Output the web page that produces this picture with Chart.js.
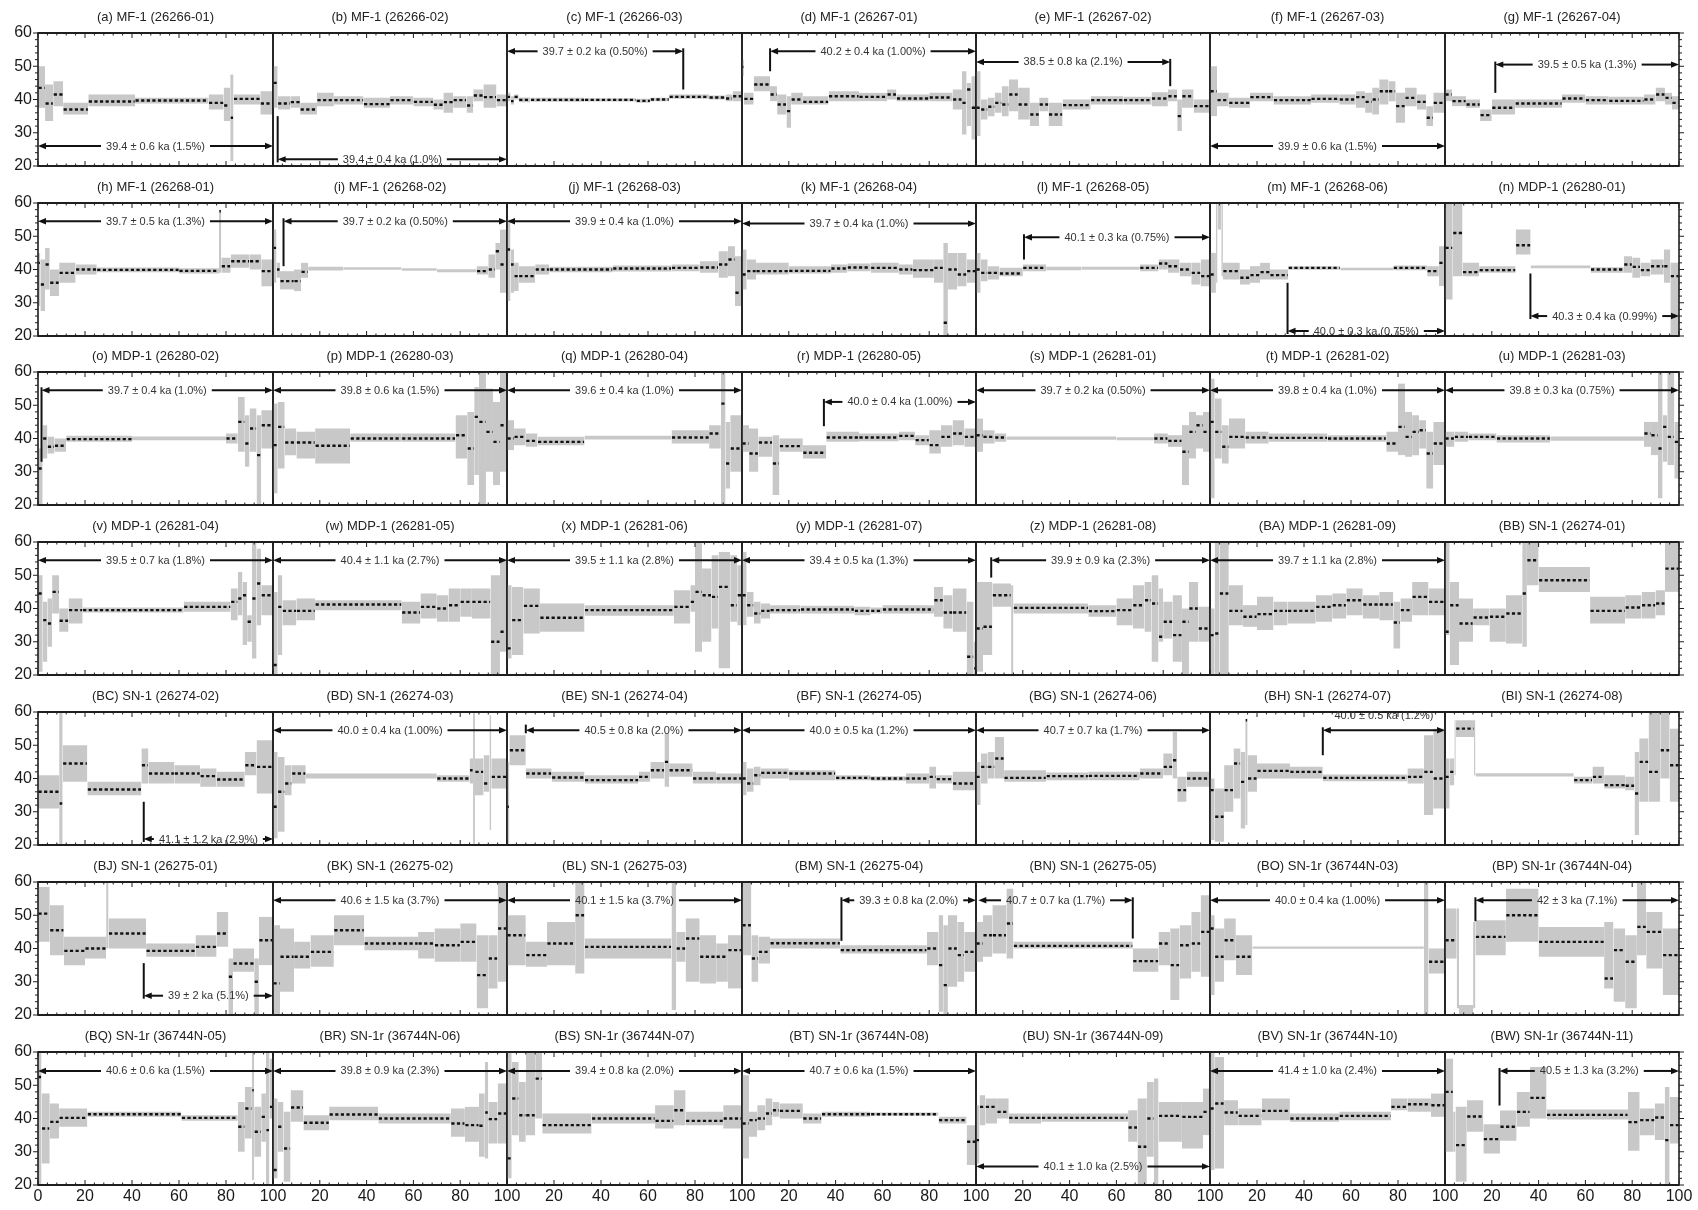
<!DOCTYPE html>
<html>
<head>
<meta charset="utf-8">
<script src="https://cdn.jsdelivr.net/npm/chart.js@4.4.0/dist/chart.umd.min.js"></script>
<style>
  body { margin: 0; background: #fff; width: 1698px; height: 1210px; overflow: hidden; position: relative; }
  .panel { position: absolute; }
</style>
</head>
<body>
<script>
// panel ids, sample names and codes (7 x 7 grid, row by row)
const panelIds = ['a','b','c','d','e','f','g','h','i','j','k','l','m','n','o','p','q','r','s','t','u',
  'v','w','x','y','z','BA','BB','BC','BD','BE','BF','BG','BH','BI','BJ','BK','BL','BM','BN','BO','BP',
  'BQ','BR','BS','BT','BU','BV','BW'];
const sampleNames = ['MF-1','MF-1','MF-1','MF-1','MF-1','MF-1','MF-1','MF-1','MF-1','MF-1','MF-1','MF-1','MF-1','MDP-1',
  'MDP-1','MDP-1','MDP-1','MDP-1','MDP-1','MDP-1','MDP-1','MDP-1','MDP-1','MDP-1','MDP-1','MDP-1','MDP-1','SN-1',
  'SN-1','SN-1','SN-1','SN-1','SN-1','SN-1','SN-1','SN-1','SN-1','SN-1','SN-1','SN-1','SN-1r','SN-1r',
  'SN-1r','SN-1r','SN-1r','SN-1r','SN-1r','SN-1r','SN-1r'];
const sampleCodes = ['26266-01','26266-02','26266-03','26267-01','26267-02','26267-03','26267-04',
  '26268-01','26268-02','26268-03','26268-04','26268-05','26268-06','26280-01',
  '26280-02','26280-03','26280-04','26280-05','26281-01','26281-02','26281-03',
  '26281-04','26281-05','26281-06','26281-07','26281-08','26281-09','26274-01',
  '26274-02','26274-03','26274-04','26274-05','26274-06','26274-07','26274-08',
  '26275-01','26275-02','26275-03','26275-04','26275-05','36744N-03','36744N-04',
  '36744N-05','36744N-06','36744N-07','36744N-08','36744N-09','36744N-10','36744N-11'];

// step segments: [x start, x end, lower, upper, mean (null = no mean marks)]
const segA = [[0,3,37.5,50,43.5],[3,6.5,33.5,44.5,38.8],[6.5,10.7,38,45.5,41.5],[10.7,21.4,35.5,39,37],[21.4,41.3,38,41.5,39.4],[41.3,72.6,38.8,40.5,39.7],[72.6,79,37,41.5,39],[79,81.8,33.5,43.5,38.2],[81.8,83.2,21.5,47.5,34.5],[83.2,94.6,38.5,41.5,40.2],[94.6,100,35.5,42.5,38.8]];
const segB = [[0,2,37.5,50,45],[2,7.4,37,41,38.8],[7.4,11.6,37.5,41,39.2],[11.6,18.8,35.5,39,37],[18.8,26,38,42,39.8],[26,38.7,38.5,41,39.8],[38.7,50,37.5,40.5,38.6],[50,60,38.5,41,39.8],[60,68.5,38,40.5,39.3],[68.5,72.8,37,40,38.4],[72.8,77,36,42,39.2],[77,82.7,37.5,41,39.8],[82.7,85.6,36,41,38.2],[85.6,89.9,39.5,43,41.2],[89.9,95.5,37.5,44.5,40.7],[95.5,100,38,41.5,39.8]];
const segC = [[0,1.5,39.5,42,40.8],[1.5,3,38.5,41,39.5],[3,5,40,41.5,40.8],[5,10,39.2,40.6,39.9],[10,33,39.3,40.5,39.9],[33,55,39.4,40.4,39.9],[55,61,39,40.2,39.6],[61,69,39.5,40.5,40],[69,86,40.2,41.5,40.8],[86,93,40,41.2,40.6],[93,96,39.5,41.5,40.3],[96,100,39.5,42.5,41]];
const segD = [[0,0.8,47,52,49.8],[0.8,5,38.5,42,40.2],[5,12,42.5,47,44.5],[12,15,39.5,44,41.5],[15,19,35.5,41.5,38.5],[19,21,31.5,41,36.5],[21,26,38.5,42,40],[26,37,38.5,41,39.3],[37,50,39.5,42.5,41],[50,62,39.5,42,40.8],[62,66,40,43,41.5],[66,80,39.5,41.5,40.3],[80,90,39.5,42,40.6],[90,94,37,43,40],[94,96,29.5,48.5,39],[96,98,32,45,43],[98,100,28,47,37.5]];
const segE = [[0,2,29,48.5,37.5],[2,5,34,40,37],[5,8,35,40.5,37.8],[8,11,36,42,39],[11,14,35,44,38.5],[14,18,36.5,46,41.5],[18,23,34,43.5,38.5],[23,27,32,39,35.5],[27,31,36.5,40.5,38.5],[31,37,32,39,35.5],[37,49,37,40,38.3],[49,63,38.5,41,39.8],[63,75,38.5,40.8,39.8],[75,82,38,42.2,40.3],[82,86,39.5,43,41],[86,88,30.5,40,35],[88,93,37.5,43,41],[93,100,36,40,38]];
const segF = [[0,3,35,50,42.5],[3,8,38,42,39.8],[8,17,37.5,40.5,39],[17,27,39.5,42,40.7],[27,43,38.5,41,39.8],[43,55,39,41.5,40.2],[55,62,38.5,41.5,40],[62,66,37.5,42.5,40.7],[66,69,36,42,39.3],[69,72,35.5,43.5,40],[72,76,38.5,46,42.5],[76,79,39.5,45.5,42.5],[79,83,33,42,38],[83,88,38,43.5,40.5],[88,92,37,41.5,39.3],[92,95,32,38,34.5],[95,100,36,42,39]];
const segG = [[0,3,39.5,43,41.5],[3,9,38,41,39.5],[9,15,37.5,40,38.5],[15,20,33.5,37,35.3],[20,30,35.5,40,37.5],[30,50,37.5,40,38.8],[50,60,39,41.5,40.3],[60,70,38.5,41,39.8],[70,85,38.5,40.8,39.6],[85,90,38.5,41.5,40],[90,94,39.5,43.5,41.5],[94,97,38.5,42,40.5],[97,100,37,41,39]];
const segH = [[0,1,29,45,42],[1,3,27.5,43,35.5],[3,5,34,46.5,41.5],[5,9,32,40,36],[9,16,36,42,39],[16,25,38.5,41.5,40],[25,60,39.2,40.6,39.9],[60,77,38.8,40.4,39.6],[77,78,39,58,57.5],[78,82,39,43.5,41],[82,90,40.5,44.5,42.5],[90,95,40,44.5,42.5],[95,100,35,43,39.5]];
const segI = [[0,1.5,36,52,46.5],[1.5,3,37.5,42,40],[3,9,34,39.5,36.5],[9,12,33.5,40,36.5],[12,15,37.5,42,39.3],[15,30,39.7,40.8,null],[30,55,39.9,40.7,null],[55,70,39.6,40.4,null],[70,87,39.2,40.1,null],[87,92,38.5,41,39.5],[92,95,37.5,44.5,40],[95,97,40,48,45.5],[97,100,33,52,41.5]];
const segJ = [[0,1.5,30.5,55,46],[1.5,3,33,46,41.5],[3,5,33.5,42,38],[5,12,36,41,38],[12,18,38.5,41.5,40],[18,45,39.2,40.8,40],[45,70,39.4,41.2,40.3],[70,82,39.5,41.5,40.5],[82,90,39,42.5,40.6],[90,94,37.5,45.5,41.5],[94,97,38,47,43],[97,100,29,44,33]];
const segK = [[0,2,34,46,38.5],[2,6,37,43,39.5],[6,20,38.5,42,39.5],[20,38,38.8,41,39.6],[38,45,39,41.5,40.3],[45,55,39.5,41.8,40.6],[55,67,39,42,40.5],[67,73,38.5,41.5,40],[73,82,37.5,43,39.8],[82,86,36,43,40.5],[86,88,20,48,24],[88,92,34,45,40],[92,96,35,45,38.5],[96,100,36,43,39.5]];
const segL = [[0,2,33,45,40],[2,5,36.5,43,39],[5,10,37,41,39],[10,20,38,40.5,38.8],[20,30,39.5,41.5,40.5],[30,45,39.8,40.8,null],[45,70,39.9,40.8,null],[70,78,39.5,41.5,40.5],[78,82,40,43,41.8],[82,87,39,43,41],[87,92,38,42,40],[92,96,35.5,42,39],[96,100,35,43,38]];
const segM = [[0,2.5,33,45,38.5],[2.5,3.2,36,60,null],[3.2,4.8,52,60,null],[4.8,5.5,38,60,null],[5.5,12.7,37,42,39.5],[12.7,17,35.5,40,37.5],[17,21.3,36,41,38.3],[21.3,25.5,37,42,39.2],[25.5,33.3,37,40,38.3],[33.3,55.4,39.9,41,40.5],[55.4,78,39.8,40.5,null],[78,92.4,39.8,41.2,40.5],[92.4,97.4,38,41,39.5],[97.4,100,35,47,42]];
const segN = [[0,3.3,31,60,46.5],[3.3,7.5,38,60,51],[7.5,14.6,38,42,39.2],[14.6,30.2,39,41,39.8],[30.2,36.6,44.5,52,47.3],[36.6,62.2,40.4,41.2,null],[62.2,76.4,39,40.7,40],[76.4,80,39,44,41.5],[80,83.5,37.5,43.5,40.8],[83.5,87.8,38,42,39.8],[87.8,93.5,38.5,43,41],[93.5,96.3,36,46,41],[96.3,100,20,42,38]];
const segO = [[0,2,20,37,31],[2,4,34,44,40],[4,7,35.5,40.5,37.5],[7,12,36,40,37.8],[12,40,39,40.8,39.8],[40,80,39.5,40.6,null],[80,85,38.5,41.5,40],[85,88,36,52.5,45],[88,90,31.5,47,38.5],[90,93,36,49,43],[93,95,20,47,35],[95,100,37,48.5,44]];
const segP = [[0,2,23.5,50.5,38],[2,5,31,51,43.5],[5,10,35,43,38.8],[10,18,34,42,38.8],[18,33,32.5,43,37.8],[33,55,39,41.5,40],[55,78,39,41.5,40],[78,83,34,47,41],[83,86,26,48,37],[86,88,29,55.5,46.5],[88,91,20,60,45],[91,94,30,55,42],[94,97,26,51,39],[97,100,30,60,44]];
const segQ = [[0,3,36.5,45.5,40],[3,8,38,43,40.5],[8,13,37.5,41.5,39.3],[13,33,38,40.5,39],[33,70,39.7,40.8,null],[70,86,38.5,42.5,40.3],[86,91,37,44,41.5],[91,93,20,60,50.5],[93,95,25,45,32.5],[95,100,30,47,37]];
const segR = [[0,3,36,44,38.5],[3,7,30,43,35.5],[7,13,34.5,40.5,38.8],[13,16,23,41,32.5],[16,26,36,40,37.7],[26,36,34,38,35.7],[36,50,39,42,40.3],[50,67,39.2,41.5,40.3],[67,74,39.5,42,40.8],[74,80,38,41,39.5],[80,85,35.5,42.5,38],[85,90,37.5,44,40.5],[90,95,38,45.5,41.5],[95,100,37.5,43,40.5]];
const segS = [[0,3,36,46,41],[3,8,38.5,42.5,40.5],[8,13,39,41.5,40.3],[13,60,39.6,40.6,null],[60,76,39.5,40.4,null],[76,82,38.5,41.5,40],[82,88,37.5,41,39.3],[88,91,26,44,36],[91,94,34,48,42],[94,97,37,47,44],[97,100,36,48,42]];
const segT = [[0,2,22,58,45],[2,5,34,52,42],[5,8,32.5,44,37.5],[8,15,37,46,40.5],[15,25,38.5,42,40.3],[25,50,39,41.5,40.2],[50,75,39,41,40],[75,80,36,42,38.5],[80,83,35,56.5,43.5],[83,86,34.5,48,40.5],[86,89,35,47,42],[89,92,37,45.5,42.5],[92,95,25,42,35.5],[95,100,32,45,38.5]];
const segU = [[0,4,37.5,42,40],[4,10,39,42,40.5],[10,22,39.5,41.5,40.5],[22,45,38.8,41,40],[45,85,39.3,40.6,null],[85,88,37.5,45,41.5],[88,91,35,45,41],[91,93,22,60,37],[93,95,33,47,43.5],[95,98,32,60,40.5],[98,100,28,45,39]];
const segV = [[0,2,21,50,44.5],[2,4,24,42,36.5],[4,6,28.5,43,35.5],[6,9,38.5,50,45],[9,13,33,40,36.3],[13,19,35.5,43,39.5],[19,62,38.8,40.3,39.5],[62,82,39,42,40.5],[82,85,36.5,46,42],[85,87,38,51,43],[87,89,29,48,44],[89,91,30,38,36],[91,93,25,60,43],[93,95,35,58,47.5],[95,100,38,47,44]];
const segW = [[0,2,20,45,23],[2,4,26,50,40.5],[4,10,35,42.5,39.3],[10,18,36.5,43,39.3],[18,55,39.5,42.5,41.2],[55,63,35.5,42,38.8],[63,70,37,44.5,40.5],[70,75,36,44,40],[75,80,36,46,41],[80,85,37.5,46,42],[85,93,37,46,42],[93,97,20,50,30],[97,100,27,55,33]];
const segX = [[0,2,25,47,28],[2,7,26,46.5,36.5],[7,14,32.5,46,40.8],[14,33,33,41.5,37.2],[33,71,37.8,41,39.5],[71,78,35.5,45.5,40.5],[78,80,39,47,42],[80,83,27,60,45],[83,87,30,52,44],[87,90,34,56,43.5],[90,95,22,57,46.5],[95,98,36,56,41],[98,100,35,53,44]];
const segY = [[0,2,35,57,44],[2,5,37.5,45,41],[5,8,35.5,42,38.5],[8,12,37,41.5,39.3],[12,25,38.5,41,39.5],[25,48,38.5,40.8,39.7],[48,55,38,40.5,39.3],[55,60,38.5,40.3,39.3],[60,82,38.5,41,39.7],[82,86,37.5,46.5,42.5],[86,90,34,44,38.8],[90,96,33,46,38.8],[96,99,20,42,25.5],[99,100,20,30,22]];
const segZ = [[0,3,21,48,34],[3,7,26,48,34.5],[7,15,40.5,47.5,44],[15,16,20,47,null],[16,48,38.5,41.5,40.2],[48,60,37.5,41,39.2],[60,67,35,43,39.5],[67,72,34,47,41],[72,75,33,48,42.5],[75,78,24,50,41.5],[78,80,30,46,31.5],[80,84,31,42,36],[84,88,24,44,32],[88,91,20,40,36],[91,95,30,48,40],[95,100,30,40.5,34]];
const segBA = [[0,2,20,40,32],[2,4,20,60,32.5],[4,8,20,60,44.5],[8,14,35,47,39.3],[14,20,34.5,41,37.5],[20,27,33.5,43.5,38.3],[27,33,35,42,39.3],[33,45,35.5,42,39.3],[45,52,36,44,40.5],[52,58,37,44.5,41],[58,65,38,46,42.5],[65,72,37,44,41.2],[72,78,36.5,45,41.2],[78,81,28,42,35.8],[81,86,36,43,39.5],[86,93,38,48,43.5],[93,100,38,46,42]];
const segBB = [[0,2,32,60,33],[2,6,23,48,41],[6,12,30,43,35.5],[12,19,35,40,37.3],[19,26,30,40,37.5],[26,33,29.5,44,38.5],[33,35,28.5,60,44.5],[35,40,47,60,54.5],[40,62,45,52.5,48.5],[62,77,35.5,43.5,39.3],[77,84,37,44,40.3],[84,90,37,45,41],[90,94,38,45.5,41.5],[94,100,45,60,52]];
const segBC = [[0,9,31,41,36],[9,10.5,20,60,32.5],[10.5,21,39,50,44.5],[21,44,35,39,36.7],[44,47,38.5,49,44],[47,58,38.5,45,41.5],[58,69,38.5,44,41.5],[69,76,37.5,43,40.7],[76,88,37.5,42,39.7],[88,93,41,48,44],[93,100,35.5,51.5,43.5]];
const segBD = [[0,2,22,48,31.5],[2,5,24,46.5,36],[5,8,35,44,38.5],[8,14,38.5,44,41.5],[14,70,40,41.5,null],[70,84,39,41,40],[84,85.5,38.5,46,42.5],[85.5,86.3,20,60,null],[86.3,90,35,46,42],[90,92.5,36,47,38.5],[92.5,93.3,24.5,59,null],[93.3,100,37,46,40.5]];
const segBE = [[0,1,20,45,31.5],[1,8,44,53,48.5],[8,19,40,43,41.5],[19,33,39,42,40.3],[33,56,38.5,41,39.5],[56,61,39,42,40.5],[61,67,40,45,42.5],[67,69,37.5,53.5,45],[69,79,40.5,44.5,42.5],[79,89,38.5,42,40],[89,100,38.5,41.5,40]];
const segBF = [[0,2,35,45,40],[2,5,36,43,38.5],[5,8,38,43.5,41],[8,20,40,43,41.7],[20,40,39.5,42.5,41.5],[40,55,39.5,41,40.2],[55,70,39.3,40.7,40],[70,80,38.5,41.5,40],[80,83,37,43.5,40.5],[83,90,38.5,41,39.8],[90,100,36.5,42,38.5]];
const segBG = [[0,2,32,45,40.5],[2,5,38.5,47.5,43.5],[5,8,40,48,43.5],[8,12,40,52.5,46],[12,30,39,42.5,40.2],[30,48,39.5,41.8,40.7],[48,70,39.5,42,40.8],[70,80,40,43,41.5],[80,84,41,47.5,43.5],[84,86,40,54,45.5],[86,90,33,40.5,36.5],[90,100,37.5,42,40]];
const segBH = [[0,2,21.5,40,36.5],[2,6,21,37,28.5],[6,10,30,44,36.5],[10,13,34,49,44.5],[13,15,25,48,39],[15,16,26,58,57.5],[16,20,36,47,40],[20,34,40,44.5,42.3],[34,48,40,43.5,42],[48,84,39.2,41.2,40.2],[84,91,38.5,43,40.5],[91,95,29,53,42],[95,100,31,55,40]];
const segBI = [[0,2,31,46,40.5],[2,4,38,46,42],[4,4.6,41,57.5,null],[4.6,12.4,52.5,57.5,55],[12.4,13,41,57.5,null],[13,55,40.6,41.6,null],[55,63,38.5,40.5,39.5],[63,68,38.5,43.5,40.5],[68,77,37,41,38],[77,81,36.5,40.5,37.8],[81,83,23,48,35.5],[83,87,33,52,45],[87,92,33,60,42],[92,96,40,60,48.5],[96,100,33,55,44]];
const segBJ = [[0,5,42,58.5,50.5],[5,11,38,53,45.5],[11,20,35,43.5,39.3],[20,29,37,43.5,40],[29,30,40,60,null],[30,46,40,49,44.5],[46,67,37.5,41.5,39.3],[67,76,37.5,44,40.5],[76,81,40.5,51,44.5],[81,83,20,37,31.5],[83,92,33,40,35.5],[92,94,20,37,30],[94,100,35,49.5,42.5]];
const segBK = [[0,3,20,47,29.5],[3,9,27,46,37.5],[9,16,34,42,37.5],[16,26,34.5,44,39],[26,39,41,50,45.5],[39,62,39.5,43.5,41.5],[62,69,37,45,41.5],[69,80,36,46,41],[80,87,36,47.5,42],[87,92,22,44,32],[92,96,28,44,37],[96,100,30,60,46]];
const segBL = [[0,8,35,50,44],[8,17,34.5,42,38],[17,29,35,48,41.5],[29,33,32.5,60,50],[33,70,37,43,40.5],[70,72,21.5,60,null],[72,76,36,45,40],[76,82,30,49,43],[82,89,29.5,44,37.5],[89,94,30,41.5,37.5],[94,100,28,44,39.5]];
const segBM = [[0,4,38,60,47],[4,7,30,44,37],[7,12,35.5,43.5,39],[12,42,40,43,41.6],[42,79,38.5,41,39.5],[79,84,35,45,40],[84,86,21,50,35],[86,88,20,47,29],[88,92,28.5,50,40],[92,95,30,48,38],[95,100,33,45,39]];
const segBN = [[0,3,36,48,41.5],[3,7,37.5,50,44],[7,13,38.5,53,44],[13,16,37,58,47.5],[16,67,40,42,40.8],[67,78,33,40,36.2],[78,83,35,45,41.5],[83,87,24.5,46,35],[87,92,31,47,41],[92,96,33,51,41.5],[96,100,31.5,56,45]];
const segBO = [[0,2,26,50,46],[2,6,30,46,37.5],[6,11,36.5,49,42.5],[11,18,32,44,37.5],[18,91,39.9,40.6,null],[91,93,20,60,null],[93,100,32.5,40,36]];
const segBP = [[0,5,37,52,42.5],[5,6,22,52,null],[6,12,20,23,null],[12,13,22,48,null],[13,26,38,48.5,43.5],[26,40,42,58,50],[40,68,37.5,46.5,42],[68,72,28,48,31],[72,77,24,46,39.5],[77,82,22,44,36],[82,86,38,60,46.5],[86,93,34,51,45],[93,100,26,46,38]];
const segBQ = [[0,1.5,20,60,52.5],[1.5,5,26.5,47.5,37],[5,9,34,44.5,39],[9,21,37.5,43,40.2],[21,61,40.5,42,41.3],[61,85,39.3,41,40.2],[85,88,30,45,37.5],[88,91,34,49.5,43],[91,92,21.5,60,48.5],[92,95,28.5,43.5,36],[95,97,33,47.5,40.5],[97,98.5,20,60,36.5],[98.5,100,40,58,43.5]];
const segBR = [[0,2,22,46,24.5],[2,4.5,30,45,37.5],[4.5,7.5,21,42,31],[7.5,13,39,48.5,43.3],[13,24,36.5,41,38.7],[24,45,39.5,43.5,41.2],[45,76,38.5,41.5,40],[76,82,34.5,43,38.5],[82,88,33,43.5,38],[88,90.5,28.5,47.5,37.8],[90.5,92,28,57,41.8],[92,96,32.5,45,39.8],[96,100,32.5,50.5,41.5]];
const segBS = [[0,2,22,60,28],[2,5,35,57,46],[5,8,33,51,41],[8,12,35,60,41],[12,15,40,60,52],[15,36,35.5,41.5,38],[36,63,38.5,41.5,40],[63,71,37,44,39.3],[71,76,38,48.5,42.5],[76,92,38,42,39.3],[92,100,37,44,40]];
const segBT = [[0,3,28,53,38.5],[3,6.5,34.5,42,39.5],[6.5,10,36.5,44,40],[10,13,38,46,41.5],[13,16,40.5,45,42.5],[16,26,40,44.5,42.3],[26,34,38.5,41.5,40],[34,55,40.5,42,41.3],[55,84,40.8,41.8,41.3],[84,96,38.5,40.5,39.5],[96,100,26,38,33]];
const segBU = [[0,1.5,26.5,44,33.5],[1.5,4,38,47,43.5],[4,9,38.5,46,43.5],[9,14,40,46,42],[14,28,38.5,41.5,40.2],[28,65,39,41.5,40.2],[65,69,33,42.5,37.3],[69,73,20,46,31.5],[73,76,28.5,51,40],[76,78,20,52,null],[78,88,33,45,40.8],[88,97,31,45,40.5],[97,100,35,49,42]];
const segBV = [[0,2,24.5,60,43],[2,6,25,58.5,44.5],[6,12,38,45.5,41.8],[12,22,38,43,40.8],[22,34,39.5,46,42.3],[34,55,39,41.5,40],[55,77,39.5,42,40.8],[77,84,42.5,46,43.5],[84,94,42,46,44.3],[94,100,40.5,47.5,44]];
const segBW = [[0,3.5,30,58,48],[3.5,4.5,30,42,null],[4.5,9.3,21,43.5,32],[9.3,16.4,36,45.5,40.6],[16.4,23.5,29.5,38.3,33.8],[23.5,30.6,33.3,42.4,37.5],[30.6,36.3,37.5,48,42],[36.3,43.4,40,55.5,46.2],[43.4,78.2,39.7,42.7,41.1],[78.2,83.2,30.3,48,38.9],[83.2,89.6,35,43,39.5],[89.6,93.9,33.5,44.5,40.3],[93.9,96,20,49.5,33.5],[96,100,32.5,46.5,38]];

const panelSegs = [segA,segB,segC,segD,segE,segF,segG,segH,segI,segJ,segK,segL,segM,segN,segO,segP,segQ,segR,segS,segT,segU,
  segV,segW,segX,segY,segZ,segBA,segBB,segBC,segBD,segBE,segBF,segBG,segBH,segBI,segBJ,segBK,segBL,segBM,segBN,segBO,segBP,
  segBQ,segBR,segBS,segBT,segBU,segBV,segBW];

// plateau arrows: start, end, level, end of the marker bar, label
const arrowFrom = [0,2,0,12,0,0,21.5, 0,4.5,0,0,20.5,33,36.5, 1.5,0,0,35,0,0,0, 0,0,0,0,6.5,0,null,
  45,0,8,0,0,48,null, 45,0,0,42.5,1,0,13, 0,0,0,0,0,0,23.3];
const arrowTo = [100,100,75,100,83,100,100, 100,100,100,100,100,100,100, 100,100,100,100,100,100,100,
  100,100,100,100,100,100,null, 100,100,100,100,100,100,null, 100,100,100,100,67,100,100, 100,100,100,100,100,100,100];
const arrowY = [26,22,54.5,54.5,51.3,26,50.5, 54.5,54.5,54.5,53.8,49.7,21.5,26, 54.5,54.5,54.5,51,54.5,54.5,54.5,
  54.5,54.5,54.5,54.5,54.5,54.5,null, 21.8,54.5,54.5,54.5,54.5,54.5,null, 25.8,54.5,54.5,54.5,54.5,54.5,54.5,
  54.3,54.3,54.3,54.3,25.6,54.3,54.3];
const arrowBar = [null,35,43,48.5,44,null,42, null,41,null,null,43,36,38.8, 33,null,null,43.7,null,null,null,
  null,null,null,null,49.3,null,null, 33,null,56.2,null,null,47,null, 35.6,null,null,42.3,43,null,48.2,
  null,null,null,null,null,null,43.9];
const arrowText = ['39.4 ± 0.6 ka (1.5%)','39.4 ± 0.4 ka (1.0%)','39.7 ± 0.2 ka (0.50%)','40.2 ± 0.4 ka (1.00%)','38.5 ± 0.8 ka (2.1%)','39.9 ± 0.6 ka (1.5%)','39.5 ± 0.5 ka (1.3%)',
  '39.7 ± 0.5 ka (1.3%)','39.7 ± 0.2 ka (0.50%)','39.9 ± 0.4 ka (1.0%)','39.7 ± 0.4 ka (1.0%)','40.1 ± 0.3 ka (0.75%)','40.0 ± 0.3 ka (0.75%)','40.3 ± 0.4 ka (0.99%)',
  '39.7 ± 0.4 ka (1.0%)','39.8 ± 0.6 ka (1.5%)','39.6 ± 0.4 ka (1.0%)','40.0 ± 0.4 ka (1.00%)','39.7 ± 0.2 ka (0.50%)','39.8 ± 0.4 ka (1.0%)','39.8 ± 0.3 ka (0.75%)',
  '39.5 ± 0.7 ka (1.8%)','40.4 ± 1.1 ka (2.7%)','39.5 ± 1.1 ka (2.8%)','39.4 ± 0.5 ka (1.3%)','39.9 ± 0.9 ka (2.3%)','39.7 ± 1.1 ka (2.8%)',null,
  '41.1 ± 1.2 ka (2.9%)','40.0 ± 0.4 ka (1.00%)','40.5 ± 0.8 ka (2.0%)','40.0 ± 0.5 ka (1.2%)','40.7 ± 0.7 ka (1.7%)','40.0 ± 0.5 ka (1.2%)',null,
  '39 ± 2 ka (5.1%)','40.6 ± 1.5 ka (3.7%)','40.1 ± 1.5 ka (3.7%)','39.3 ± 0.8 ka (2.0%)','40.7 ± 0.7 ka (1.7%)','40.0 ± 0.4 ka (1.00%)','42 ± 3 ka (7.1%)',
  '40.6 ± 0.6 ka (1.5%)','39.8 ± 0.9 ka (2.3%)','39.4 ± 0.8 ka (2.0%)','40.7 ± 0.6 ka (1.5%)','40.1 ± 1.0 ka (2.5%)','41.4 ± 1.0 ka (2.4%)','40.5 ± 1.3 ka (3.2%)'];
const labelAbove = ['BH'];

const xTicks = [0, 20, 40, 60, 80, 100];
const yTicks = [20, 30, 40, 50, 60];

const FONT = "'Liberation Sans', Arial, sans-serif";
const BAND = '#c8c8c8';
const PAD = { left: 45, right: 45, top: 30, bottom: 28 };

function drawLine(ctx, x0, y0, x1, y1) {
    ctx.beginPath();
    ctx.moveTo(x0, y0);
    ctx.lineTo(x1, y1);
    ctx.stroke();
}

// axes, ticks, title and the plateau arrow of one panel
function decorFor(i) {
    const col = i % 7, row = Math.floor(i / 7);
    return {
        id: 'decor' + i,
        afterDatasetsDraw(chart) {
            const { ctx, chartArea: ca, scales: { x, y } } = chart;
            ctx.save();
            ctx.strokeStyle = '#1e1e1e';
            ctx.fillStyle = '#1e1e1e';

            // minor / major ticks along top and bottom
            ctx.lineWidth = 1;
            for (let v = 0; v <= 100; v += 4) {
                const px = x.getPixelForValue(v);
                const len = v % 20 === 0 ? 5 : 2.5;
                drawLine(ctx, px, ca.top, px, ca.top + len);
                drawLine(ctx, px, ca.bottom, px, ca.bottom - len);
            }
            // y ticks on the outer columns
            if (col === 0 || col === 6) {
                const edge = col === 0 ? ca.left : ca.right;
                const dir = col === 0 ? -1 : 1;
                for (let v = 20; v <= 60; v += 2) {
                    const py = y.getPixelForValue(v);
                    drawLine(ctx, edge, py, edge + dir * (v % 10 === 0 ? 5 : 3), py);
                }
            }

            // frame
            ctx.lineWidth = 1.6;
            ctx.strokeRect(ca.left, ca.top, ca.right - ca.left, ca.bottom - ca.top);
            ctx.lineWidth = 2;
            drawLine(ctx, ca.left, ca.top, ca.right, ca.top);
            drawLine(ctx, ca.left, ca.bottom, ca.right, ca.bottom);

            // tick labels
            ctx.fillStyle = '#1a1a1a';
            ctx.font = '16px ' + FONT;
            if (col === 0) {
                ctx.textAlign = 'right';
                ctx.textBaseline = 'middle';
                yTicks.forEach(v => ctx.fillText(String(v), ca.left - 6, y.getPixelForValue(v)));
            }
            if (row === 6) {
                ctx.textAlign = 'center';
                ctx.textBaseline = 'top';
                xTicks.forEach(v => {
                    if (v === 0 && col > 0) return;
                    ctx.fillText(String(v), x.getPixelForValue(v), ca.bottom + 4);
                });
            }

            // title
            ctx.font = '13px ' + FONT;
            ctx.fillStyle = '#222';
            ctx.textAlign = 'center';
            ctx.textBaseline = 'middle';
            ctx.fillText('(' + panelIds[i] + ') ' + sampleNames[i] + ' (' + sampleCodes[i] + ')',
                (ca.left + ca.right) / 2, ca.top - 16);

            // plateau arrow
            const txt = arrowText[i];
            if (txt) {
                const x0 = x.getPixelForValue(arrowFrom[i]);
                const x1 = x.getPixelForValue(arrowTo[i]);
                const ay = y.getPixelForValue(arrowY[i]);
                ctx.strokeStyle = '#111';
                ctx.fillStyle = '#111';
                ctx.lineWidth = 2;
                ctx.font = '11px ' + FONT;
                const tw = ctx.measureText(txt).width;
                const xm = (x0 + x1) / 2;
                const above = labelAbove.includes(panelIds[i]);
                if (above) {
                    drawLine(ctx, x0 + 6, ay, x1 - 6, ay);
                } else {
                    drawLine(ctx, x0 + 6, ay, xm - tw / 2 - 5, ay);
                    drawLine(ctx, xm + tw / 2 + 5, ay, x1 - 6, ay);
                }
                ctx.beginPath();
                ctx.moveTo(x0, ay); ctx.lineTo(x0 + 8, ay - 3.2); ctx.lineTo(x0 + 8, ay + 3.2);
                ctx.closePath(); ctx.fill();
                ctx.beginPath();
                ctx.moveTo(x1, ay); ctx.lineTo(x1 - 8, ay - 3.2); ctx.lineTo(x1 - 8, ay + 3.2);
                ctx.closePath(); ctx.fill();
                if (arrowBar[i] != null) {
                    const bx = arrowTo[i] < 100 ? x1 : x0;
                    const by = y.getPixelForValue(arrowBar[i]);
                    const over = by > ay ? -3 : 3;
                    drawLine(ctx, bx, ay + over, bx, by);
                }
                ctx.fillStyle = '#333';
                ctx.textAlign = 'center';
                ctx.textBaseline = 'middle';
                ctx.fillText(txt, xm, above ? ay - 14 : ay + 0.5);
            }
            ctx.restore();
        }
    };
}

function buildDatasets(segs) {
    const sets = [];
    // uncertainty bands, one filled step per segment
    segs.forEach(s => {
        sets.push({
            data: [{ x: s[0], y: s[3] }, { x: s[1], y: s[3] }],
            fill: { value: s[2] },
            backgroundColor: BAND,
            borderColor: 'rgba(0,0,0,0)',
            borderWidth: 0,
            pointRadius: 0,
            order: 2
        });
    });
    // mean of each step, dotted
    const means = [];
    segs.forEach(s => {
        if (s[4] == null) return;
        means.push({ x: s[0] + 0.2, y: s[4] }, { x: s[1] - 0.2, y: s[4] }, { x: s[1], y: null });
    });
    sets.push({
        data: means,
        borderColor: '#111',
        borderWidth: 2.4,
        borderDash: [3.2, 2.4],
        borderCapStyle: 'butt',
        pointRadius: 0,
        spanGaps: false,
        fill: false,
        order: 1
    });
    return sets;
}

panelSegs.forEach((segs, i) => {
    const col = i % 7, row = Math.floor(i / 7);
    const left = Math.round(38.3 + col * 234.4);
    const right = Math.round(38.3 + (col + 1) * 234.4);
    const top = Math.round(32.7 + row * 169.85);
    const h = 133;

    const wrap = document.createElement('div');
    wrap.className = 'panel';
    wrap.style.left = (left - PAD.left) + 'px';
    wrap.style.top = (top - PAD.top) + 'px';
    wrap.style.width = (right - left + PAD.left + PAD.right) + 'px';
    wrap.style.height = (h + PAD.top + PAD.bottom) + 'px';
    const canvas = document.createElement('canvas');
    wrap.appendChild(canvas);
    document.body.appendChild(wrap);

    new Chart(canvas, {
        type: 'line',
        data: { datasets: buildDatasets(segs) },
        options: {
            responsive: true,
            maintainAspectRatio: false,
            animation: false,
            events: [],
            layout: { padding: PAD },
            plugins: { legend: { display: false }, tooltip: { enabled: false } },
            scales: {
                x: { type: 'linear', min: 0, max: 100, display: false },
                y: { type: 'linear', min: 20, max: 60, display: false }
            },
            elements: { line: { tension: 0 } }
        },
        plugins: [decorFor(i)]
    });
});
</script>
</body>
</html>
